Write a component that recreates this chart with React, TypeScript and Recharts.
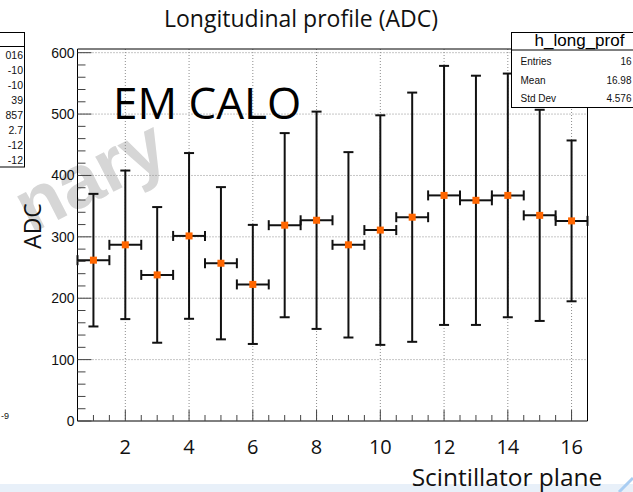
import React from 'react';
import { ComposedChart, Scatter, XAxis, YAxis, ErrorBar, CartesianGrid, ReferenceArea } from 'recharts';

// ---- data ----
const planes = [1, 2, 3, 4, 5, 6, 7, 8, 9, 10, 11, 12, 13, 14, 15, 16];
const adcMean = [262, 287, 238, 301.5, 257, 222.5, 319, 327, 287, 311, 332, 367.5, 359.5, 367.5, 335, 326];
const adcError = [108, 121, 110.5, 135, 124, 97, 150, 177, 151, 187, 203, 211, 203, 198.5, 172, 131];
const binHalfWidth = [0.5, 0.5, 0.5, 0.5, 0.5, 0.5, 0.5, 0.5, 0.5, 0.5, 0.5, 0.5, 0.5, 0.5, 0.5, 0.5];

// ---- axis ticks ----
const xTicks = [1, 1.5, 2, 2.5, 3, 3.5, 4, 4.5, 5, 5.5, 6, 6.5, 7, 7.5, 8, 8.5, 9, 9.5, 10, 10.5, 11, 11.5, 12, 12.5, 13, 13.5, 14, 14.5, 15, 15.5, 16];
const xMajor = [2, 4, 6, 8, 10, 12, 14, 16];
const yTicks = [0, 20, 40, 60, 80, 100, 120, 140, 160, 180, 200, 220, 240, 260, 280, 300, 320, 340, 360, 380, 400, 420, 440, 460, 480, 500, 520, 540, 560, 580, 600];
const yMajor = [0, 100, 200, 300, 400, 500, 600];
const yGrid = [100, 200, 300, 400, 500, 600];

// ---- texts ----
const chartTitle = 'Longitudinal profile (ADC)';
const xTitle = 'Scintillator plane';
const yTitle = 'ADC';
const tagText = 'EM CALO';
const watermarkVisible = 'nary';
const statTitle = 'h_long_prof';
const statLabels = ['Entries', 'Mean', 'Std Dev'];
const statValues = ['16', '16.98', '4.576'];
const sideBoxValues = ['016', '-10', '-10', '39', '857', '2.7', '-12', '-12'];
const sideNote = '-9';

const data = planes.map((p, i) => ({ plane: p, adc: adcMean[i], err: adcError[i], xerr: binHalfWidth[i] }));

const ROOT_FONT = '"Liberation Sans", Arial, Helvetica, sans-serif';
const PPT_FONT = '"Open Sans", "Liberation Sans", sans-serif';

const XTick = (props: any) => {
  const { x, y, payload } = props;
  const v = payload.value;
  const major = xMajor.includes(v);
  return (
    <g>
      <line x1={x} x2={x} y1={y} y2={y - (major ? 11 : 6)} stroke="#444" strokeWidth={1} />
      {major && (
        <text x={x} y={y + 33} textAnchor="middle" fontSize={20} fontFamily={PPT_FONT} fill="#111">
          {v}
        </text>
      )}
    </g>
  );
};

const YTick = (props: any) => {
  const { x, y, payload } = props;
  const v = payload.value;
  const major = yMajor.includes(v);
  return (
    <g>
      <line x1={x} x2={x + (major ? 14 : 8)} y1={y} y2={y} stroke="#444" strokeWidth={1} />
      {major && (
        <text x={x - 3} y={y} dy="0.36em" textAnchor="end" fontSize={14} fontFamily={ROOT_FONT} fill="#111">
          {v}
        </text>
      )}
    </g>
  );
};

const Square = (props: any) => {
  const { cx, cy } = props;
  if (cx == null || cy == null) return null;
  return <rect x={cx - 3.5} y={cy - 3.5} width={7} height={7} fill="#ff6600" />;
};

export default function App() {
  return (
    <div style={{ position: 'fixed', left: 0, top: 0, width: 633, height: 492, background: '#fff', overflow: 'hidden' }}>
      {/* background decorations */}
      <svg width={633} height={492} style={{ position: 'absolute', left: 0, top: 0 }}>
        <rect x={0} y={484} width={633} height={8} fill="#e8f0f9" />
        <line x1={633} y1={478} x2={619} y2={492} stroke="#a9cdf2" strokeWidth={3} />
        <text
          x={172}
          y={162}
          textAnchor="end"
          fontSize={75}
          fontWeight="bold"
          fontFamily={ROOT_FONT}
          fill="#d6d6d6"
          transform="rotate(-27 172 162)"
        >
          {watermarkVisible}
        </text>
        {/* partial stats box of a neighbouring pad */}
        <rect x={-50} y={32.5} width={74.5} height={134.5} fill="none" stroke="#000" strokeWidth={1} />
        <line x1={-50} x2={24.5} y1={46.5} y2={46.5} stroke="#000" strokeWidth={1} />
        {sideBoxValues.map((t, i) => (
          <text key={i} x={23} y={55 + i * 15} dy="0.36em" textAnchor="end" fontSize={10.5} fontFamily={ROOT_FONT} fill="#111">
            {t}
          </text>
        ))}
        <text x={9} y={415.5} dy="0.36em" textAnchor="end" fontSize={9} fontFamily={ROOT_FONT} fill="#111">
          {sideNote}
        </text>
      </svg>

      <div style={{ position: 'absolute', left: 0, top: 0 }}>
        <ComposedChart width={633} height={492} data={data} margin={{ top: 49, right: 45.5, bottom: 70, left: 76.5 }}>
          <CartesianGrid
            horizontalValues={yGrid}
            verticalValues={xMajor}
            stroke="#8c8c8c"
            strokeDasharray="1 2"
            strokeWidth={1}
          />
          <XAxis
            type="number"
            dataKey="plane"
            domain={[0.5, 16.5]}
            ticks={xTicks}
            interval={0}
            height={1}
            tickSize={0}
            tickMargin={0}
            tickLine={false}
            axisLine={false}
            tick={(p: any) => <XTick {...p} />}
            allowDataOverflow
          />
          <YAxis
            type="number"
            domain={[0, 606]}
            ticks={yTicks}
            interval={0}
            width={1}
            tickSize={0}
            tickMargin={0}
            tickLine={false}
            axisLine={false}
            tick={(p: any) => <YTick {...p} />}
            allowDataOverflow
          />
          <ReferenceArea x1={0.5} x2={16.5} y1={0} y2={606} fill="none" fillOpacity={0} stroke="#000" strokeWidth={1} />
          <Scatter dataKey="adc" fill="#ff6600" shape={<Square />} isAnimationActive={false}>
            <ErrorBar dataKey="err" direction="y" width={5} stroke="#111" strokeWidth={2} isAnimationActive={false} />
            <ErrorBar dataKey="xerr" direction="x" width={5} stroke="#111" strokeWidth={2} isAnimationActive={false} />
          </Scatter>
        </ComposedChart>
      </div>

      {/* overlay texts and stats box */}
      <svg width={633} height={492} style={{ position: 'absolute', left: 0, top: 0 }}>
        <text x={301} y={27} textAnchor="middle" fontSize={23} fontFamily={PPT_FONT} fill="#111">
          {chartTitle}
        </text>
        <text x={113} y={119} fontSize={44} fontFamily={PPT_FONT} fill="#000">
          {tagText}
        </text>
        <text x={40.5} y={226} textAnchor="middle" fontSize={23} fontFamily={PPT_FONT} fill="#111" transform="rotate(-90 40.5 226)">
          {yTitle}
        </text>
        <text x={507} y={486} textAnchor="middle" fontSize={24.5} fontFamily={PPT_FONT} fill="#111">
          {xTitle}
        </text>
        <rect x={511.5} y={32.5} width={130} height={75} fill="#fff" stroke="#000" strokeWidth={1} />
        <line x1={511.5} x2={640} y1={50} y2={50} stroke="#000" strokeWidth={1} />
        <text x={579.5} y={46} textAnchor="middle" fontSize={17} fontFamily={ROOT_FONT} fill="#000">
          {statTitle}
        </text>
        {statLabels.map((l, i) => (
          <g key={l}>
            <text x={520.5} y={61.7 + i * 18.3} dy="0.36em" fontSize={10} fontFamily={ROOT_FONT} fill="#111">
              {l}
            </text>
            <text x={631.5} y={61.7 + i * 18.3} dy="0.36em" textAnchor="end" fontSize={10} fontFamily={ROOT_FONT} fill="#111">
              {statValues[i]}
            </text>
          </g>
        ))}
      </svg>
    </div>
  );
}
